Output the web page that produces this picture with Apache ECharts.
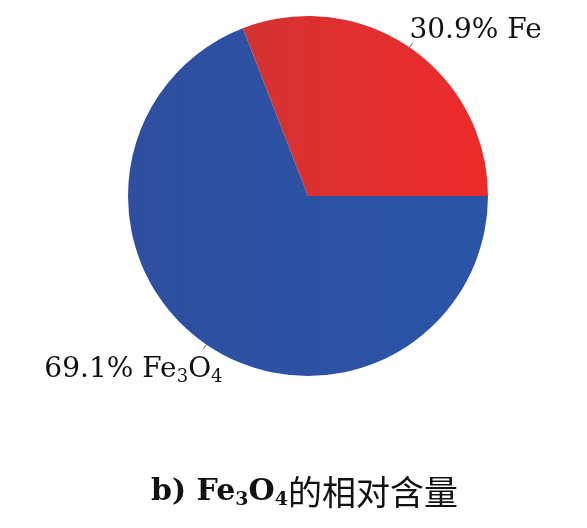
<!DOCTYPE html>
<html>
<head>
<meta charset="utf-8">
<script src="https://cdn.jsdelivr.net/npm/echarts@6/dist/echarts.min.js"></script>
<style>
  html, body { margin: 0; padding: 0; background: #fff; }
  #chart { width: 587px; height: 528px; }
</style>
</head>
<body>
<div id="chart"></div>
<script>
// ---------------- DATA ----------------
const names = ['Fe', 'Fe3O4'];
const percents = [30.9, 69.1];
const labelTexts = ['{t|30.9% Fe}', '{t|69.1% Fe}{s|3}{t|O}{s|4}'];

let chart = echarts.init(document.getElementById('chart'));

const serif = '"DejaVu Serif", "Liberation Serif", serif';

let colors = [
    new echarts.graphic.LinearGradient(0, 0, 1, 0, [
        { offset: 0, color: '#d43232' },
        { offset: 1, color: '#ee2a2a' }
    ]),
    new echarts.graphic.LinearGradient(0, 0, 1, 0, [
        { offset: 0, color: '#2f4e9f' },
        { offset: 1, color: '#2a56a8' }
    ])
];

let offsets = [
    { dx: -8, dy: -13 },
    { dx: 24, dy: 21 }
];

chart.setOption({
    animation: false,
    title: {
        text: '{b|b) Fe}{bs|3}{b|O}{bs|4}{c|的相对含量}',
        left: 146,
        top: 470,
        textStyle: {
            rich: {
                b: { fontFamily: serif, fontWeight: 'bold', fontSize: 30, color: '#111' },
                bs: { fontFamily: serif, fontWeight: 'bold', fontSize: 19, color: '#111', padding: [16, 0, 0, 0] },
                c: { fontFamily: '"Noto Sans CJK SC", sans-serif', fontWeight: 'normal', fontSize: 34, color: '#111' }
            }
        }
    },
    series: [{
        type: 'pie',
        center: [308, 196],
        radius: 180,
        startAngle: 111.24,
        clockwise: true,
        data: names.map((n, i) => ({
            name: n,
            value: percents[i],
            itemStyle: { color: colors[i] },
            label: { formatter: labelTexts[i] }
        })),
        label: {
            show: true,
            position: 'outside',
            rich: {
                t: { fontFamily: serif, fontSize: 28, color: '#111' },
                s: { fontFamily: serif, fontSize: 18, color: '#111', padding: [15, 0, 0, 0] }
            }
        },
        labelLine: {
            show: true,
            length: 5,
            length2: 0,
            lineStyle: { color: '#555', width: 1 }
        },
        labelLayout: function (p) {
            return offsets[p.dataIndex];
        }
    }]
});
</script>
</body>
</html>
